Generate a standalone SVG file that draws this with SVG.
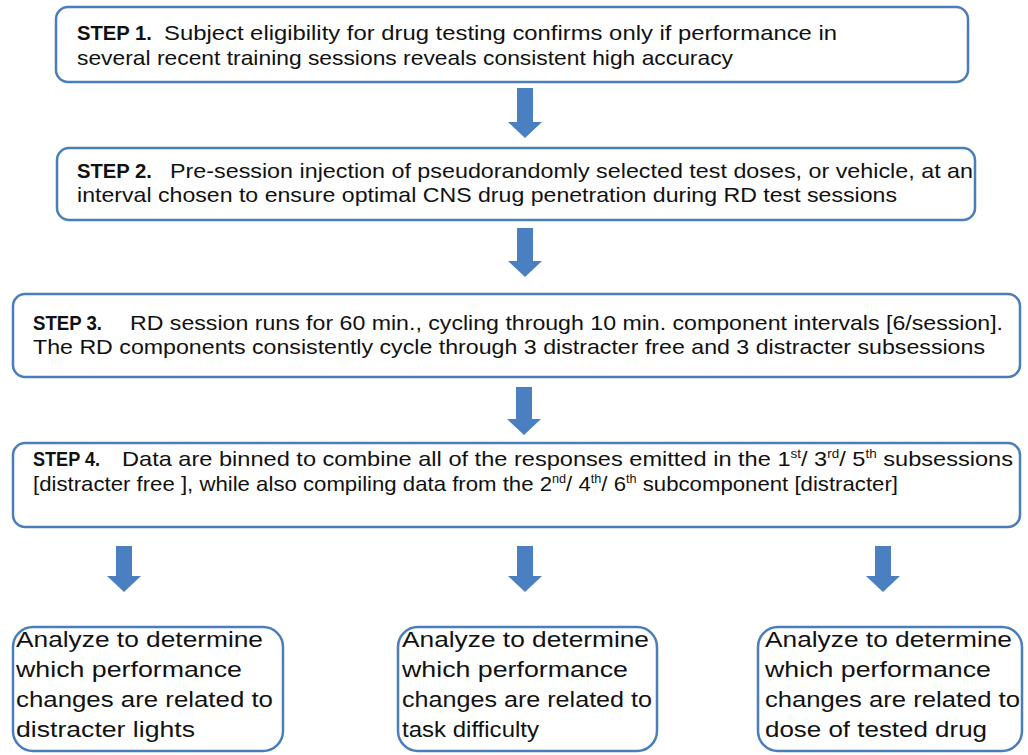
<svg xmlns="http://www.w3.org/2000/svg" width="1028" height="755" viewBox="0 0 1028 755">
<defs>
<style>
.box{fill:#fff;stroke:#4a7ebb;stroke-width:2.5}
.arr{fill:#4a7fc1}
.t{font-family:"Liberation Sans",Arial,sans-serif;font-size:21px;fill:#111}
.b{font-weight:bold}
.a{font-family:"Liberation Sans",Arial,sans-serif;font-size:22px;fill:#111}
.sup{font-size:12px}
</style>
</defs>
<rect width="1028" height="755" fill="#fff"/>
<g id="connectors">
<path class="arr" d="M517,88 H533 V122 H542 L525,138 L508,122 H517 Z"/>
<path class="arr" d="M517,228 H533 V261 H542 L525,277 L508,261 H517 Z"/>
<path class="arr" d="M516,387 H532 V419 H541 L524,435 L507,419 H516 Z"/>
<path class="arr" d="M116,546 H132 V576 H141 L124,592 L107,576 H116 Z"/>
<path class="arr" d="M517,546 H533 V576 H542 L525,592 L508,576 H517 Z"/>
<path class="arr" d="M875,546 H891 V576 H900 L883,592 L866,576 H875 Z"/>
</g>
<g id="step1">
<rect class="box" x="56" y="7" width="912" height="75" rx="12"/>
<text class="t b" x="77" y="40" textLength="75" lengthAdjust="spacingAndGlyphs">STEP 1.</text>
<text class="t" x="164" y="40" textLength="673" lengthAdjust="spacingAndGlyphs">Subject eligibility for drug testing confirms only if performance in</text>
<text class="t" x="77" y="65" textLength="656" lengthAdjust="spacingAndGlyphs">several recent training sessions reveals consistent high accuracy</text>
</g>
<g id="step2">
<rect class="box" x="57" y="148" width="918" height="72" rx="12"/>
<text class="t b" x="77" y="178" textLength="75" lengthAdjust="spacingAndGlyphs">STEP 2.</text>
<text class="t" x="170" y="178" textLength="803" lengthAdjust="spacingAndGlyphs">Pre-session injection of pseudorandomly selected test doses, or vehicle, at an</text>
<text class="t" x="77" y="202" textLength="820" lengthAdjust="spacingAndGlyphs">interval chosen to ensure optimal CNS drug penetration during RD test sessions</text>
</g>
<g id="step3">
<rect class="box" x="13" y="294" width="1007" height="83" rx="12"/>
<text class="t b" x="33" y="330" textLength="69" lengthAdjust="spacingAndGlyphs">STEP 3.</text>
<text class="t" x="130" y="330" textLength="873" lengthAdjust="spacingAndGlyphs">RD session runs for 60 min., cycling through 10 min. component intervals [6/session].</text>
<text class="t" x="33" y="354" textLength="952" lengthAdjust="spacingAndGlyphs">The RD components consistently cycle through 3 distracter free and 3 distracter subsessions</text>
</g>
<g id="step4">
<rect class="box" x="13" y="443" width="1007" height="84" rx="12"/>
<text class="t b" x="33" y="466" textLength="67" lengthAdjust="spacingAndGlyphs">STEP 4.</text>
<text class="t" x="122" y="466" textLength="891" lengthAdjust="spacingAndGlyphs">Data are binned to combine all of the responses emitted in the 1<tspan class="sup" dy="-8">st</tspan><tspan dy="8">/ 3</tspan><tspan class="sup" dy="-8">rd</tspan><tspan dy="8">/ 5</tspan><tspan class="sup" dy="-8">th</tspan><tspan dy="8"> subsessions</tspan></text>
<text class="t" x="33" y="491" textLength="865" lengthAdjust="spacingAndGlyphs">[distracter free ], while also compiling data from the 2<tspan class="sup" dy="-8">nd</tspan><tspan dy="8">/ 4</tspan><tspan class="sup" dy="-8">th</tspan><tspan dy="8">/ 6</tspan><tspan class="sup" dy="-8">th</tspan><tspan dy="8"> subcomponent [distracter]</tspan></text>
</g>
<g id="analyze1">
<rect class="box" x="13" y="627" width="270" height="124" rx="20"/>
<text class="a" x="16" y="647" textLength="247" lengthAdjust="spacingAndGlyphs">Analyze to determine</text>
<text class="a" x="16" y="677" textLength="226" lengthAdjust="spacingAndGlyphs">which performance</text>
<text class="a" x="16" y="707" textLength="257" lengthAdjust="spacingAndGlyphs">changes are related to</text>
<text class="a" x="16" y="737" textLength="179" lengthAdjust="spacingAndGlyphs">distracter lights</text>
</g>
<g id="analyze2">
<rect class="box" x="398" y="627" width="259" height="124" rx="20"/>
<text class="a" x="402" y="647" textLength="247" lengthAdjust="spacingAndGlyphs">Analyze to determine</text>
<text class="a" x="402" y="677" textLength="226" lengthAdjust="spacingAndGlyphs">which performance</text>
<text class="a" x="402" y="707" textLength="250" lengthAdjust="spacingAndGlyphs">changes are related to</text>
<text class="a" x="402" y="737" textLength="137" lengthAdjust="spacingAndGlyphs">task difficulty</text>
</g>
<g id="analyze3">
<rect class="box" x="758" y="627" width="264" height="124" rx="20"/>
<text class="a" x="765" y="647" textLength="247" lengthAdjust="spacingAndGlyphs">Analyze to determine</text>
<text class="a" x="765" y="677" textLength="226" lengthAdjust="spacingAndGlyphs">which performance</text>
<text class="a" x="765" y="707" textLength="255" lengthAdjust="spacingAndGlyphs">changes are related to</text>
<text class="a" x="765" y="737" textLength="222" lengthAdjust="spacingAndGlyphs">dose of tested drug</text>
</g>
</svg>
